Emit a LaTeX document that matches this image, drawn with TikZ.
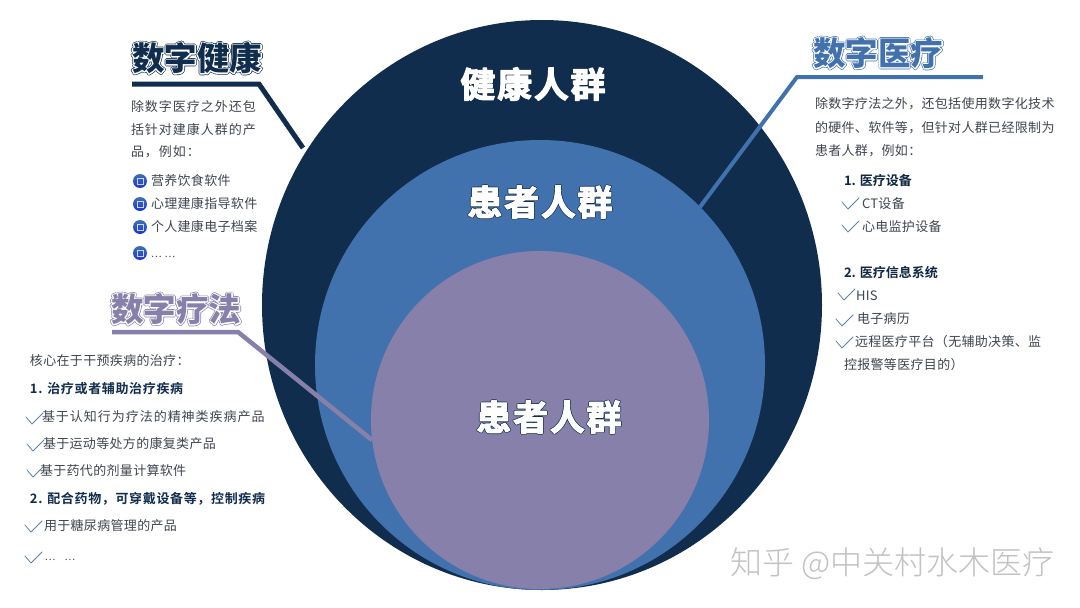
\documentclass[tikz,border=0pt]{standalone}
\usepackage{fontspec}
\setmainfont{Noto Sans CJK SC}
\newfontfamily\bodyf[LetterSpace=2.5]{Noto Sans CJK SC}
\newfontfamily\bodyS[LetterSpace=7.5]{Noto Sans CJK SC}
\newfontfamily\boldf{Noto Sans CJK SC Bold}
\newfontfamily\boldS[LetterSpace=5]{Noto Sans CJK SC Bold}
\newfontfamily\heavy{Noto Sans CJK SC Black}
\newfontfamily\heavyA[FakeBold=7]{Noto Sans CJK SC Black}
\newfontfamily\heavyC[FakeBold=11]{Noto Sans CJK SC Black}
\newfontfamily\bigA[FakeBold=7,LetterSpace=5]{Noto Sans CJK SC Bold}
\newfontfamily\bigB[FakeBold=3.2,LetterSpace=5]{Noto Sans CJK SC Bold}
\newfontfamily\lightf{Noto Sans CJK SC Light}
\usetikzlibrary{calc}
\definecolor{navy}{HTML}{112D4E}
\definecolor{midb}{HTML}{4172AE}
\definecolor{purp}{HTML}{8780AA}
\definecolor{txt}{HTML}{3F4650}
\definecolor{chk}{HTML}{5C82AC}
\tikzset{
 every node/.style={inner sep=0pt,outer sep=0pt},
 para/.style={anchor=base west,yshift=-5pt,text=txt,font=\bodyS\fontsize{13}{15}\selectfont},
 parb/.style={anchor=base west,yshift=-5pt,text=txt,font=\bodyf\fontsize{13}{15}\selectfont},
 dots/.style={anchor=base west,yshift=-5pt,text=txt,font=\bodyf\fontsize{10}{12}\selectfont},
 head/.style={anchor=base west,yshift=-5pt,text=navy!85!black,font=\boldf\fontsize{13}{15}\selectfont},
 heads/.style={anchor=base west,yshift=-5pt,text=navy,font=\boldS\fontsize{13}{15}\selectfont},
 checkm/.style={draw=chk,line width=0.8pt,line cap=round,line join=round},
 lead/.style={line width=#1,line join=miter},
 icon/.style={circle,minimum size=14pt,top color=midb,bottom color=blue!55!midb},
}
\newcommand{\chkm}[2]{\draw[checkm] (#1-6,#2-1) -- (#1,#2+6) -- (#1+11,#2-5);}
\newcommand{\icn}[3]{\node[icon] (#1) at (#2,#3) {};\draw[white!70!midb,line width=.7pt] (#2-3,#3-3) rectangle (#2+3,#3+3);}
\newcommand{\ttl}[4]{%
 \node[text=#1,font=\heavyC\fontsize{32.5}{34}\selectfont] at (#2,#3) {\special{pdf:code 1 j}#4};
 \node[text=white,font=\heavyA\fontsize{32.5}{34}\selectfont] at (#2,#3) {\special{pdf:code 1 j}#4};
 \node[text=#1,font=\heavy\fontsize{32.5}{34}\selectfont] (t#2) at (#2,#3) {#4};}
\newcommand{\bigt}[4]{%
 \node[text=navy,font=\bigA\fontsize{35}{37}\selectfont] at (#2,#3) {\special{pdf:code 1 j}#4};
 \node[text=white,font=\bigB\fontsize{35}{37}\selectfont] (#1) at (#2,#3) {\special{pdf:code 1 j}#4};}
\begin{document}
\begin{tikzpicture}[x=1pt,y=-1pt]
\useasboundingbox (0,0) rectangle (1080,608);
\fill[white] (0,0) rectangle (1080,608);
\fill[navy] (542,305) ellipse [x radius=280,y radius=285];
\fill[midb] (540,365) circle (225);
\fill[purp] (540,420) circle (169);
\coordinate (ha) at (132,84);\coordinate (hb) at (259,84);\coordinate (hc) at (303,148);
\draw[lead=5pt,navy] (ha) -- (hb) -- (hc);
\coordinate (ya) at (983,77);\coordinate (yb) at (797,77);\coordinate (yc) at (700,207);
\draw[lead=4pt,midb] (ya) -- (yb) -- (yc);
\coordinate (la) at (112,332);\coordinate (lb) at (238,332);\coordinate (lc) at (372,440);
\draw[lead=4.5pt,purp] (la) -- (lb) -- (lc);
\bigt{g1}{533}{84}{健康人群}
\bigt{g2}{540}{202}{患者人群}
\bigt{g3}{549}{417}{患者人群}
\ttl{navy}{197}{58}{数字健康}
\ttl{midb}{878}{53}{数字医疗}
\ttl{purp}{176}{309}{数字疗法}
\node[para] (a1) at (131,106) {除数字医疗之外还包};
\node[para] (a2) at (131,129) {括针对建康人群的产};
\node[para] (a3) at (131,151) {品，例如：};
\icn{i1}{140}{181}\icn{i2}{140}{204}\icn{i3}{140}{227}\icn{i4}{140}{253}
\node[parb] (a4) at (151,180) {营养饮食软件};
\node[parb] (a5) at (151,203) {心理建康指导软件};
\node[parb] (a6) at (151,226) {个人建康电子档案};
\node[dots] (a7) at (151,252) {…\hspace{3pt}…};
\node[parb] (b1) at (815,103) {除数字疗法之外，还包括使用数字化技术};
\node[parb] (b2) at (815,127) {的硬件、软件等，但针对人群已经限制为};
\node[parb] (b3) at (815,150) {患者人群，例如：};
\node[head] (b4) at (844,180) {1. 医疗设备};
\chkm{848}{203}\node[parb] (b5) at (862,203) {CT设备};
\chkm{848}{226}\node[parb] (b6) at (862,226) {心电监护设备};
\node[head] (b7) at (844,272) {2. 医疗信息系统};
\chkm{844}{294}\node[parb] (b8) at (856,295) {HIS};
\chkm{842}{320}\node[parb] (b9) at (857,318) {电子病历};
\chkm{842}{342}\node[parb] (b10) at (855,341) {远程医疗平台（无辅助决策、监};
\node[parb] (b11) at (844,364) {控报警等医疗目的）};
\node[parb] (c1) at (30,360) {核心在于干预疾病的治疗：};
\node[heads] (c2) at (30,388) {1. 治疗或者辅助治疗疾病};
\chkm{32}{418}\node[para] (c3) at (42,416) {基于认知行为疗法的精神类疾病产品};
\chkm{33}{445}\node[parb] (c4) at (43,443) {基于运动等处方的康复类产品};
\chkm{33}{471}\node[parb] (c5) at (40,470) {基于药代的剂量计算软件};
\node[heads] (c6) at (30,498) {2. 配合药物，可穿戴设备等，控制疾病};
\chkm{31}{526}\node[parb] (c7) at (44,525) {用于糖尿病管理的产品};
\chkm{31}{557}\node[dots] (c8) at (45,555) {…\hspace{9pt}…};
\node[anchor=west,text=black!24,font=\lightf\fontsize{32}{34}\selectfont] (wm) at (730,564) {知乎 @中关村水木医疗};
\end{tikzpicture}
\end{document}
